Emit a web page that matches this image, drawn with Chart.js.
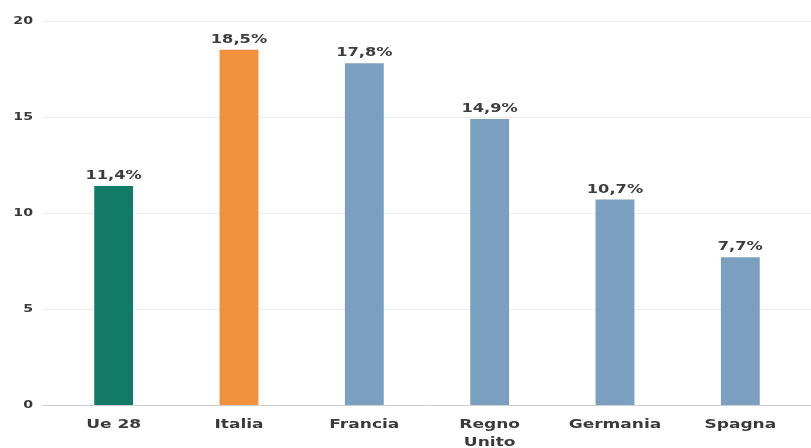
<!DOCTYPE html>
<html>
<head>
<meta charset="utf-8">
<script src="https://cdn.jsdelivr.net/npm/chart.js@4"></script>
<style>
  html, body { margin: 0; padding: 0; background: #fff; }
  canvas { display: block; }
</style>
</head>
<body>
<canvas id="chart" width="811" height="448"></canvas>
<script>
const paesi = ['Ue 28', 'Italia', 'Francia', ['Regno', 'Unito'], 'Germania', 'Spagna'];
const quote = [11.4, 18.5, 17.8, 14.9, 10.7, 7.7];
const colori = ['#127a66', '#f2913b', '#7b9fbe', '#7b9fbe', '#7b9fbe', '#7b9fbe'];
const yTicks = [0, 5, 10, 15, 20];

const FONT = '"DejaVu Sans", Verdana, sans-serif';

// text with the glyphs widened horizontally
function wideText(ctx, text, x, y, sx) {
    ctx.save();
    ctx.translate(x, y);
    ctx.scale(sx, 1);
    ctx.fillText(text, 0, 0);
    ctx.restore();
}

// horizontal grid across the whole width (zero line darker) plus axis labels
const axes = {
    id: 'axes',
    beforeDatasetsDraw(chart) {
        const ctx = chart.ctx;
        const y = chart.scales.y;
        const x = chart.scales.x;
        ctx.save();
        yTicks.forEach(v => {
            const py = Math.round(y.getPixelForValue(v)) + 0.5;
            ctx.beginPath();
            ctx.moveTo(42, py);
            ctx.lineTo(chart.width, py);
            ctx.strokeStyle = v === 0 ? '#cfcfcf' : '#ececec';
            ctx.lineWidth = 1;
            ctx.stroke();
        });

        ctx.fillStyle = '#3a3a3a';
        ctx.textBaseline = 'middle';
        ctx.font = 'bold 10.5px ' + FONT;
        ctx.textAlign = 'right';
        yTicks.forEach(v => wideText(ctx, String(v), 33, y.getPixelForValue(v), 1.35));

        ctx.font = 'bold 12px ' + FONT;
        ctx.textAlign = 'center';
        paesi.forEach((p, i) => {
            const lines = Array.isArray(p) ? p : [p];
            lines.forEach((t, k) => wideText(ctx, t, x.getPixelForTick(i), x.bottom - 23 + k * 18, 1.42));
        });
        ctx.restore();
    }
};

// value labels above each bar
const valueLabels = {
    id: 'valueLabels',
    afterDatasetsDraw(chart) {
        const ctx = chart.ctx;
        const meta = chart.getDatasetMeta(0);
        ctx.save();
        ctx.font = 'bold 12.5px ' + FONT;
        ctx.fillStyle = '#3d3d3d';
        ctx.textAlign = 'center';
        ctx.textBaseline = 'bottom';
        meta.data.forEach((bar, i) => {
            wideText(ctx, quote[i].toFixed(1).replace('.', ',') + '%', bar.x, bar.y - 4, 1.3);
        });
        ctx.restore();
    }
};

new Chart(document.getElementById('chart'), {
    type: 'bar',
    data: {
        labels: paesi,
        datasets: [{
            data: quote,
            backgroundColor: colori,
            borderWidth: 0,
            categoryPercentage: 1,
            barPercentage: 0.31,
        }],
    },
    options: {
        responsive: false,
        animation: false,
        layout: { padding: { top: 21, right: 8, left: 0, bottom: 0 } },
        plugins: {
            legend: { display: false },
            tooltip: { enabled: false },
        },
        scales: {
            y: {
                min: 0,
                max: 20,
                afterFit: s => { s.width = 51; },
                afterBuildTicks: s => { s.ticks = yTicks.map(v => ({ value: v })); },
                grid: { display: false, drawTicks: false },
                border: { display: false },
                ticks: { display: false },
            },
            x: {
                afterFit: s => { s.height = 43; },
                grid: { display: false, drawTicks: false },
                border: { display: false },
                ticks: { display: false },
            },
        },
    },
    plugins: [axes, valueLabels],
});
</script>
</body>
</html>
